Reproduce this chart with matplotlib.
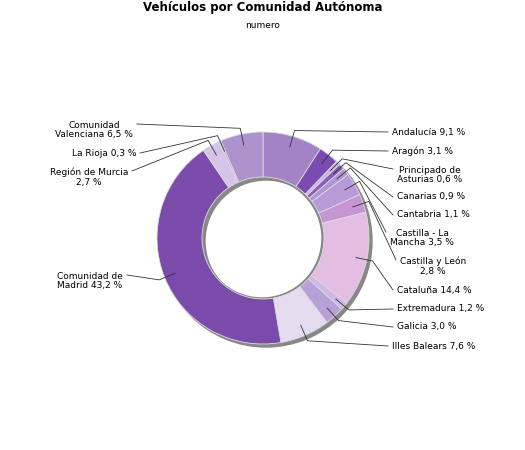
import numpy as np
import matplotlib.pyplot as plt
from matplotlib.patches import Wedge

names = ['Andalucía', 'Aragón', 'Principado de\nAsturias', 'Canarias', 'Cantabria',
         'Castilla - La\nMancha', 'Castilla y León\n', 'Cataluña', 'Extremadura', 'Galicia',
         'Illes Balears', 'Comunidad de\nMadrid', 'Región de Murcia\n', 'La Rioja', 'Comunidad\nValenciana']
values = [9.1, 3.1, 0.6, 0.9, 1.1, 3.5, 2.8, 14.4, 1.2, 3.0, 7.6, 43.2, 2.7, 0.3, 6.5]
colors = ['#a383c6', '#7a4bb0', '#c9b5e0', '#8a5cc0', '#b095d3', '#b79bd8', '#c795d4', '#e4bde2',
          '#d0b8e6', '#b8a0d8', '#e6dcf0', '#7a4bab', '#d4c4e8', '#c0a8dc', '#ad92cd']
# label anchor positions (pixels from top-left), side
label_pos = [(392, 132, 'l'), (392, 151, 'l'), (397, 175, 'l'), (397, 197, 'l'), (397, 215, 'l'),
             (390, 238, 'l'), (400, 266, 'l'), (397, 290, 'l'), (397, 309, 'l'), (397, 327, 'l'),
             (392, 346, 'l'), (123, 281, 'r'), (128, 177, 'r'), (136, 153, 'r'), (133, 130, 'r')]

fig = plt.figure(figsize=(5.25, 4.5), dpi=100)
ax = fig.add_axes([0, 0, 1, 1])
ax.set_xlim(0, 525)
ax.set_ylim(450, 0)
ax.axis('off')

cx, cy, R, r = 263, 238, 106, 61
# shadow
ax.add_patch(Wedge((cx + 3, cy + 3), R, 0, 360, width=R - r, color='#888888', zorder=1))
ax.add_patch(Wedge((cx - 1, cy + 0), r + 4, 0, 360, width=5, color='#888888', zorder=2))

start = -90.0  # top, going clockwise on screen (y inverted => increasing angle)
for name, v, c, (lx, ly, side) in zip(names, values, colors, label_pos):
    th1 = start + v * 3.6
    ax.add_patch(Wedge((cx, cy), R, start, th1, width=R - r, facecolor=c,
                       edgecolor='#dddddd', linewidth=0.6, zorder=3))
    mid = np.radians((start + th1) / 2)
    p0 = (cx + 95 * np.cos(mid), cy + 95 * np.sin(mid))
    p1 = (cx + 112 * np.cos(mid), cy + 112 * np.sin(mid))
    lab = name.rstrip('\n')
    txt = f'{lab} {v:.1f} %'.replace('.', ',')
    if name.endswith('\n'):
        txt = f'{lab}\n{v:.1f} %'.replace('.', ',')
    nlines = txt.count('\n') + 1
    yline = ly - 6 * (nlines - 1)
    ex = lx - 4 if side == 'l' else lx + 4
    ax.plot([p0[0], p1[0], ex], [p0[1], p1[1], yline], color='#333333', lw=0.6, zorder=4)
    ax.text(lx, ly, txt, ha='left' if side == 'l' else 'right', va='center',
            fontsize=6.5, linespacing=1.1, zorder=5, multialignment='center' if side == 'r' else 'center')
    start = th1

ax.text(263, 8, 'Vehículos por Comunidad Autónoma', ha='center', va='center',
        fontsize=8.5, fontweight='bold')
ax.text(263, 26, 'numero', ha='center', va='center', fontsize=6.5)
fig.savefig('out.png', dpi=100)
